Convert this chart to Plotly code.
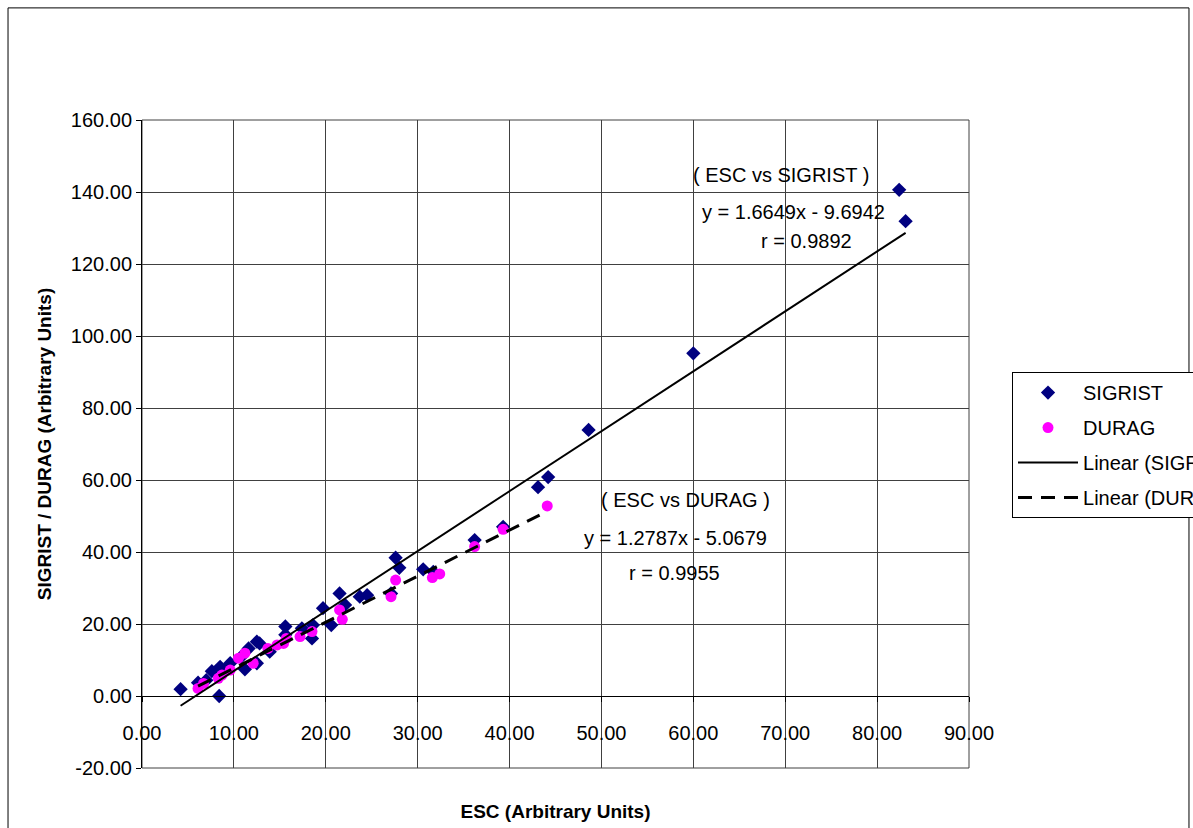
import plotly.graph_objects as go

# ---- data ----
sigrist_x = [4.2, 6.1, 7.0, 7.6, 8.4, 8.5, 9.0, 9.6, 10.8, 11.2, 11.6, 12.5, 12.5, 12.8, 13.9,
             15.6, 15.6, 17.4, 18.5, 18.6, 19.7, 20.6, 21.5, 22.1, 23.7, 24.5, 27.1, 27.6, 28.0,
             30.6, 31.7, 36.2, 39.3, 43.1, 44.2, 48.6, 60.0, 82.4, 83.1]
sigrist_y = [1.9, 3.7, 4.4, 6.9, 0.0, 8.1, 7.2, 9.1, 10.9, 7.4, 13.2, 15.1, 9.1, 14.6, 12.3,
             17.0, 19.3, 18.8, 16.0, 19.7, 24.4, 19.7, 28.5, 25.3, 27.6, 28.0, 28.5, 38.4, 35.6,
             35.2, 34.5, 43.3, 47.0, 58.0, 60.8, 73.9, 95.2, 140.6, 131.9]

durag_x = [6.1, 6.7, 8.3, 8.7, 9.6, 10.5, 11.2, 12.1, 13.7, 14.7, 15.4, 15.7, 17.2, 18.5,
           21.5, 21.8, 27.1, 27.6, 31.6, 32.4, 36.2, 39.3, 44.1]
durag_y = [2.1, 3.5, 4.9, 5.8, 7.2, 10.5, 11.9, 9.1, 13.2, 14.2, 14.6, 16.0, 16.5, 17.9,
           23.9, 21.3, 27.6, 32.2, 32.9, 33.9, 41.5, 46.3, 52.8]

# trendline coefficients as printed on the chart
sig_slope, sig_intercept, sig_r = 1.6649, -9.6942, 0.9892
dur_slope, dur_intercept, dur_r = 1.2787, -5.0679, 0.9955

x_ticks = [0, 10, 20, 30, 40, 50, 60, 70, 80, 90]
y_ticks = [-20, 0, 20, 40, 60, 80, 100, 120, 140, 160]
x_tick_labels = [f"{v:.2f}" for v in x_ticks]
y_tick_labels = [f"{v:.2f}" for v in y_ticks]

FONT = "Liberation Sans, Arial, sans-serif"

sig_fit_x = [min(sigrist_x), max(sigrist_x)]
sig_fit_y = [sig_slope * v + sig_intercept for v in sig_fit_x]
dur_fit_x = [min(durag_x), max(durag_x)]
dur_fit_y = [dur_slope * v + dur_intercept for v in dur_fit_x]

fig = go.Figure()
fig.add_trace(go.Scatter(x=sigrist_x, y=sigrist_y, mode="markers", name="SIGRIST",
                         legendgroup="a",
                         marker=dict(symbol="diamond", size=11, color="#000080")))
fig.add_trace(go.Scatter(x=durag_x, y=durag_y, mode="markers", name="DURAG",
                         legendgroup="b",
                         marker=dict(symbol="circle", size=11, color="#FF00FF")))
fig.add_trace(go.Scatter(x=sig_fit_x, y=sig_fit_y, mode="lines", name="Linear (SIGRIST)",
                         legendgroup="c",
                         line=dict(color="black", width=2)))
fig.add_trace(go.Scatter(x=dur_fit_x, y=dur_fit_y, mode="lines", name="Linear (DURAG)",
                         legendgroup="d",
                         line=dict(color="black", width=3, dash="14px,9px")))

ann_font = dict(family=FONT, size=20, color="black")
annotations = [
    dict(x=69.5, y=144.7, text="( ESC vs SIGRIST )"),
    dict(x=70.9, y=134.4, text=f"y = {sig_slope}x - {abs(sig_intercept)}"),
    dict(x=72.3, y=126.4, text=f"r = {sig_r}"),
    dict(x=59.1, y=54.4, text="( ESC vs DURAG )"),
    dict(x=58.1, y=43.9, text=f"y = {dur_slope}x - {abs(dur_intercept)}"),
    dict(x=58.0, y=34.2, text=f"r = {dur_r}"),
]
for a in annotations:
    a.update(xref="x", yref="y", showarrow=False, font=ann_font,
             xanchor="center", yanchor="middle")

fig.update_layout(
    width=1193, height=828,
    margin=dict(l=142, r=224, t=120, b=60, autoexpand=False),
    paper_bgcolor="white", plot_bgcolor="white",
    font=dict(family=FONT, size=20, color="black"),
    annotations=annotations,
    showlegend=True,
    legend=dict(x=1.052, y=0.611, xanchor="left", yanchor="top",
                bgcolor="white", bordercolor="black", borderwidth=1,
                font=dict(family=FONT, size=20, color="black"),
                traceorder="grouped", tracegroupgap=6, itemwidth=60),
    shapes=[
        dict(type="rect", xref="paper", yref="paper", x0=-0.162, x1=1.266,
             y0=-0.2, y1=1.173, line=dict(color="black", width=1), layer="below"),
        dict(type="rect", xref="paper", yref="paper", x0=0, x1=1, y0=0, y1=1,
             line=dict(color="#404040", width=1), layer="below"),
    ],
)

fig.update_xaxes(
    range=[0, 90], tickvals=x_ticks, ticktext=x_tick_labels,
    showgrid=True, gridcolor="#404040", gridwidth=1, zeroline=False,
    anchor="free", position=20 / 180,
    showline=True, linecolor="black", linewidth=1,
    ticks="outside", ticklen=5, tickcolor="black", ticklabelstandoff=14,
    tickfont=dict(family=FONT, size=20, color="black"),
    title=dict(text="<b>ESC (Arbitrary Units)</b>", standoff=61,
               font=dict(family=FONT, size=19, color="black")),
)
fig.update_yaxes(
    range=[-20, 160], tickvals=y_ticks, ticktext=y_tick_labels,
    showgrid=True, gridcolor="#404040", gridwidth=1, zeroline=False,
    showline=True, linecolor="black", linewidth=1,
    ticks="outside", ticklen=5, tickcolor="black",
    tickfont=dict(family=FONT, size=20, color="black"),
    title=dict(text="<b>SIGRIST / DURAG (Arbitrary Units)</b>", standoff=14,
               font=dict(family=FONT, size=19, color="black")),
)

fig.write_html("out.html")
